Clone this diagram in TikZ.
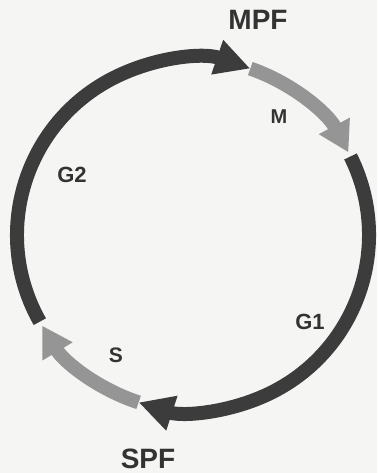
\documentclass[tikz,border=0pt]{standalone}
\usepackage{fontspec}
\setmainfont{Liberation Sans}
\usetikzlibrary{arrows.meta}
\definecolor{phasedark}{HTML}{3C3C3C}
\definecolor{phasegray}{HTML}{959595}
\definecolor{paper}{HTML}{F5F5F3}
\definecolor{ink}{HTML}{333333}
\begin{document}
\begin{tikzpicture}[x=1pt,y=1pt,
  phase/.style={line width=14pt,line cap=butt},
  darkarc/.style={phase,draw=phasedark,-{Triangle[length=35pt,width=34pt]}},
  grayarc/.style={phase,draw=phasegray,-{Triangle[length=30pt,width=33pt]}},
  lbl/.style={inner sep=0pt,text=ink,font=\bfseries\fontsize{22}{22}\selectfont},
  biglbl/.style={inner sep=0pt,text=ink,font=\bfseries\fontsize{28}{28}\selectfont}]
\fill[paper] (0,0) rectangle (377,473);
\useasboundingbox (0,0) rectangle (377,473);
\coordinate (O) at (193,238);
% segment end points on the cycle (radius 176)
\path (O) ++(209.5:176) coordinate (g2s);
\path (O) ++(71:176) coordinate (mpft);
\path (O) ++(28:176) coordinate (mtip);
\path (O) ++(26.5:176) coordinate (g1s);
\path (O) ++(252:176) coordinate (spft);
\path (O) ++(211:176) coordinate (stip);
% G2 (dark) -> MPF
\draw[darkarc] (g2s) arc[start angle=209.5, end angle=71, radius=176];
% M (gray)
\draw[grayarc] (mpft) arc[start angle=71, end angle=28, radius=176];
% G1 (dark) -> SPF
\draw[darkarc] (g1s) arc[start angle=26.5, end angle=-108, radius=176];
% S (gray)
\draw[grayarc] (spft) arc[start angle=252, end angle=211, radius=176];
% labels
\node[biglbl] (mpf) at (258,453) {MPF};
\node[lbl,font=\bfseries\fontsize{20}{20}\selectfont] (m) at (279,356) {M};
\node[lbl] (g2) at (72,298) {G2};
\node[lbl] (g1) at (310,151) {G1};
\node[lbl,font=\bfseries\fontsize{21}{21}\selectfont] (s) at (116,118) {S};
\node[biglbl] (spf) at (148,14) {SPF};
\end{tikzpicture}
\end{document}
